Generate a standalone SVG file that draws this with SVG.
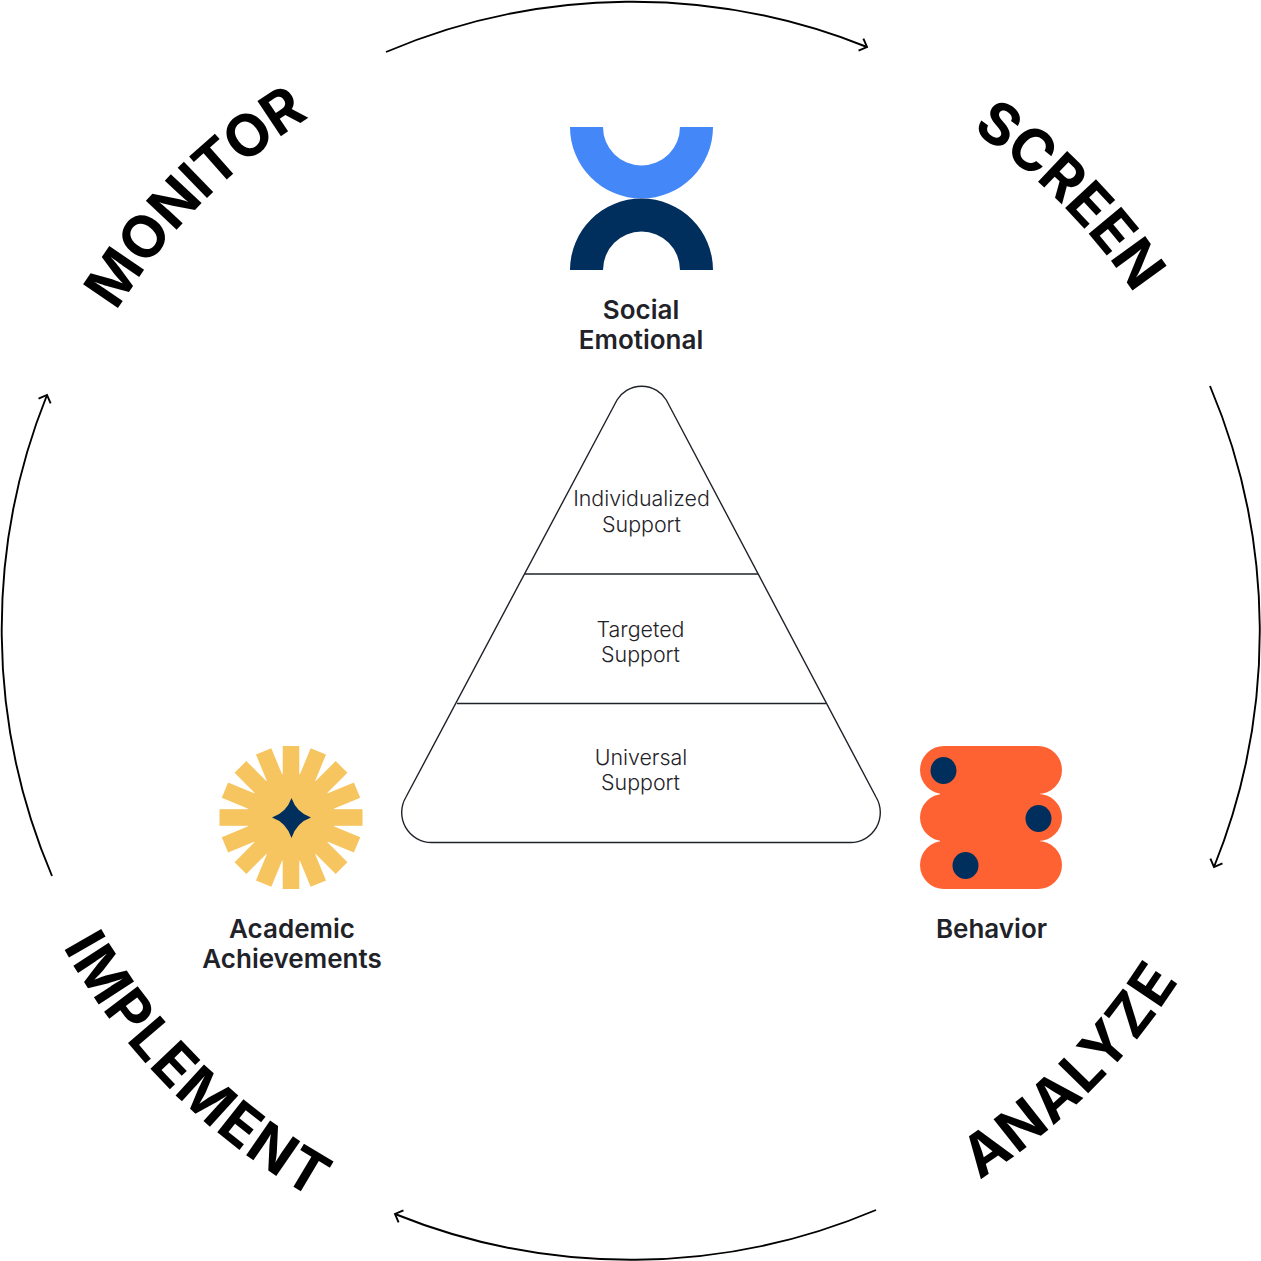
<svg xmlns="http://www.w3.org/2000/svg" width="1261" height="1261" viewBox="0 0 1261 1261">
<style>
.arc{fill:none;stroke:#000;stroke-width:1.9}
.lbl{font-family:Inter,"Liberation Sans",sans-serif;font-weight:600;font-size:26px;fill:#1f2329;text-anchor:middle}
.tier{font-family:Inter,"Liberation Sans",sans-serif;font-weight:300;font-size:21.4px;fill:#1f2329;text-anchor:middle}
.step{font-family:Inter,"Liberation Sans",sans-serif;font-weight:700;font-size:58px;fill:#000;text-anchor:middle}
.tline{fill:none;stroke:#1f2329;stroke-width:1.4}
</style>
<defs>
<marker id="arrow" markerUnits="userSpaceOnUse" markerWidth="20" markerHeight="20" refX="10" refY="10" orient="auto"><path d="M3.5 3.500L10 10L3.5 16.500" fill="none" stroke="#000" stroke-width="1.9"/></marker>
<path id="pMon" d="M45.7 474.2A606 606 0 0 1 474.2 45.7"/>
<path id="pScr" d="M787.800 45.700A606 606 0 0 1 1216.300 474.200"/>
<path id="pAna" d="M799.200 1258.900A650 650 0 0 0 1258.900 799.200"/>
<path id="pImp" d="M3.100 799.200A650 650 0 0 0 462.800 1258.900"/>
</defs>
<g id="connectors">
<path class="arc" marker-end="url(#arrow)" d="M386 52A629.5 629.5 0 0 1 867 47"/>
<path class="arc" marker-end="url(#arrow)" d="M1210 386A629.5 629.5 0 0 1 1214 867"/>
<path class="arc" marker-end="url(#arrow)" d="M876 1210A629.5 629.5 0 0 1 395 1214"/>
<path class="arc" marker-end="url(#arrow)" d="M52 876A629.5 629.5 0 0 1 47 395"/>
</g>
<g id="step-monitor"><text class="step" letter-spacing="-0.4"><textPath href="#pMon" startOffset="49.800%">MONITOR</textPath></text></g>
<g id="step-screen"><text class="step" letter-spacing="-0.3"><textPath href="#pScr" startOffset="50.300%">SCREEN</textPath></text></g>
<g id="step-analyze"><text class="step" letter-spacing="1.5"><textPath href="#pAna" startOffset="50%">ANALYZE</textPath></text></g>
<g id="step-implement"><text class="step" letter-spacing="1.500"><textPath href="#pImp" startOffset="50%">IMPLEMENT</textPath></text></g>
<g id="social-emotional">
<path fill="#4487f8" d="M570 127H603A38.5 38.5 0 0 0 680 127H713A71.500 71.500 0 0 1 570 127Z"/>
<path fill="#002f5d" d="M570 270H603A38.500 38.500 0 0 1 680 270H713A71.500 71.500 0 0 0 570 270Z"/>
<text class="lbl" x="641" y="319">Social</text>
<text class="lbl" x="641" y="349">Emotional</text>
</g>
<g id="pyramid">
<path class="tline" d="M617 400A29 29 0 0 1 666.300 400L876 797A30 30 0 0 1 850 842.500H432A30 30 0 0 1 406 797Z"/>
<path class="tline" d="M525 574H758M457 703.500H826"/>
<text class="tier" x="641.500" y="506">Individualized</text>
<text class="tier" x="641.500" y="532">Support</text>
<text class="tier" x="640.500" y="637">Targeted</text>
<text class="tier" x="640.500" y="662">Support</text>
<text class="tier" x="641" y="765">Universal</text>
<text class="tier" x="640.500" y="790">Support</text>
</g>
<g id="academic-achievements">
<g fill="#f6c560">
<circle cx="291" cy="817.500" r="44"/>
<rect x="282.700" y="746" width="16.600" height="143"/>
<rect x="282.700" y="746" width="16.600" height="143" transform="rotate(22.500 291 817.500)"/>
<rect x="282.700" y="746" width="16.600" height="143" transform="rotate(45 291 817.500)"/>
<rect x="282.700" y="746" width="16.600" height="143" transform="rotate(67.500 291 817.500)"/>
<rect x="282.700" y="746" width="16.600" height="143" transform="rotate(90 291 817.500)"/>
<rect x="282.700" y="746" width="16.600" height="143" transform="rotate(112.500 291 817.500)"/>
<rect x="282.700" y="746" width="16.600" height="143" transform="rotate(135 291 817.500)"/>
<rect x="282.700" y="746" width="16.600" height="143" transform="rotate(157.500 291 817.500)"/>
</g>
<path fill="#002f5d" d="M291.500 798Q296.500 812.500 311 817.500Q296.500 822.500 291.500 838Q286.500 822.500 272 817.500Q286.500 812.500 291.500 798Z"/>
<text class="lbl" x="292" y="938">Academic</text>
<text class="lbl" x="292" y="968">Achievements</text>
</g>
<g id="behavior">
<rect x="920" y="746" width="142" height="48" rx="24" fill="#ff6232"/>
<rect x="920" y="794" width="142" height="47" rx="23.500" fill="#ff6232"/>
<rect x="920" y="841" width="142" height="48" rx="24" fill="#ff6232"/>
<rect x="940" y="780" width="100" height="70" fill="#ff6232"/>
<ellipse cx="943.500" cy="770.500" rx="13" ry="13.500" fill="#002f5d"/>
<ellipse cx="1038.500" cy="818.500" rx="13" ry="13.500" fill="#002f5d"/>
<ellipse cx="965.500" cy="865.500" rx="13" ry="13.500" fill="#002f5d"/>
<text class="lbl" x="991.500" y="938">Behavior</text>
</g>
</svg>
